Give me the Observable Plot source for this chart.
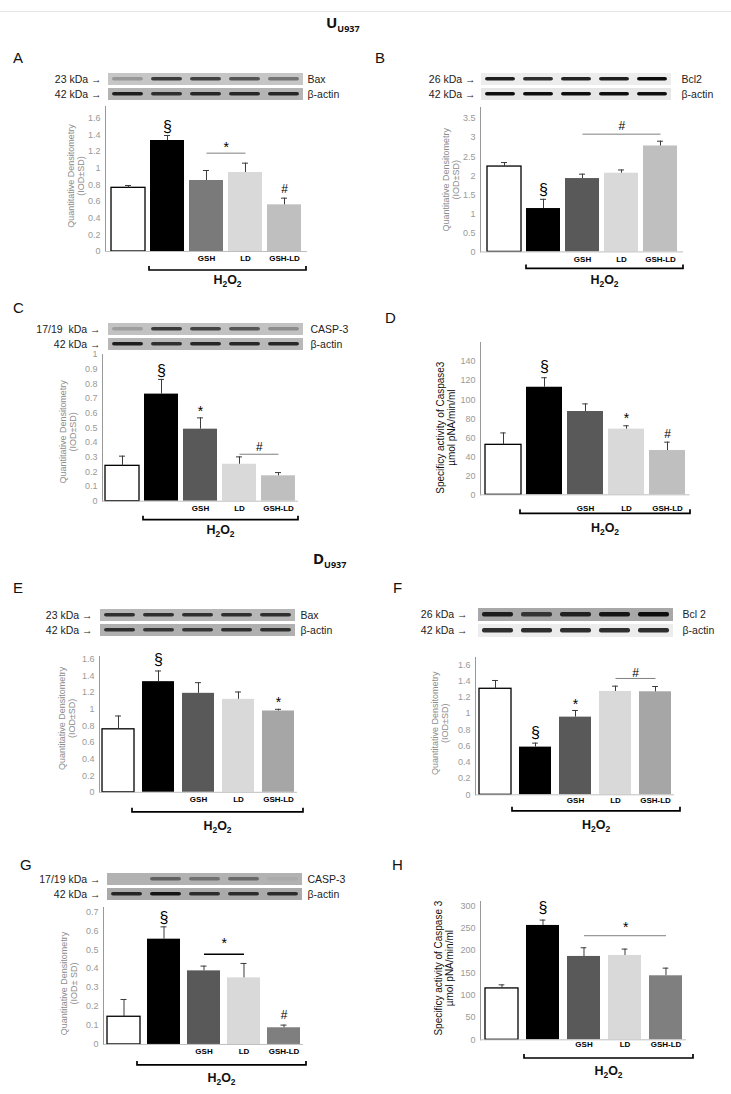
<!DOCTYPE html>
<html><head><meta charset="utf-8">
<script src="https://cdn.jsdelivr.net/npm/d3@7"></script>
<script src="https://cdn.jsdelivr.net/npm/@observablehq/plot@0.6"></script>
<style>
body{margin:0;background:#fff;font-family:"Liberation Sans",Arial,sans-serif;}
#fig{position:relative;width:731px;height:1094px;overflow:hidden;background:#fff;}
.abs{position:absolute;white-space:nowrap;line-height:1;}
.letter{font-size:15px;color:#111;}
.title{font-family:"Open Sans",sans-serif;font-weight:bold;font-size:15px;color:#111;}
.title sub{font-size:9px;vertical-align:-4px;}
.rule{position:absolute;left:0;top:11px;width:731px;height:1px;background:#e6e6e6;}
</style></head>
<body><div id="fig"><div class="rule"></div></div>
<script>
// ---------- data ----------
const categories = ["Control", "H2O2", "GSH", "LD", "GSH-LD"];
const tickLabels = ["", "", "GSH", "LD", "GSH-LD"];
const lanes = ["1", "2", "3", "4", "5"];
const strips = ["target", "actin"];

const valuesA = [0.764, 1.332, 0.852, 0.948, 0.56];
const errorsA = [0.028, 0.06, 0.12, 0.112, 0.08];
const valuesB = [2.24, 1.138, 1.925, 2.065, 2.78];
const errorsB = [0.105, 0.242, 0.115, 0.085, 0.125];
const valuesC = [0.241, 0.73, 0.491, 0.252, 0.173];
const errorsC = [0.066, 0.1, 0.077, 0.05, 0.022];
const valuesD = [52.5, 113, 87.5, 69, 46.5];
const errorsD = [12.5, 10, 8, 3.5, 8.8];
const valuesE = [0.756, 1.328, 1.188, 1.116, 0.976];
const errorsE = [0.16, 0.128, 0.128, 0.088, 0.02];
const valuesF = [1.305, 0.587, 0.956, 1.272, 1.268];
const errorsF = [0.102, 0.049, 0.082, 0.065, 0.065];
const valuesG = [0.146, 0.555, 0.388, 0.351, 0.088];
const errorsG = [0.091, 0.065, 0.025, 0.076, 0.014];
const valuesH = [115, 256, 186.6, 188.8, 143.3];
const errorsH = [8, 12, 19.4, 14.2, 17.1];

const ticksA = [0, 0.2, 0.4, 0.6, 0.8, 1, 1.2, 1.4, 1.6];
const ticksB = [0, 0.5, 1, 1.5, 2, 2.5, 3, 3.5];
const ticksC = [0, 0.1, 0.2, 0.3, 0.4, 0.5, 0.6, 0.7, 0.8, 0.9, 1];
const ticksD = [0, 20, 40, 60, 80, 100, 120, 140];
const ticksE = [0, 0.2, 0.4, 0.6, 0.8, 1, 1.2, 1.4, 1.6];
const ticksF = [0, 0.2, 0.4, 0.6, 0.8, 1, 1.2, 1.4, 1.6];
const ticksG = [0, 0.1, 0.2, 0.3, 0.4, 0.5, 0.6, 0.7];
const ticksH = [0, 50, 100, 150, 200, 250, 300];

const symbolsA = [{cat: "H2O2", y: 1.49, text: "§"}, {cat: "GSH-LD", y: 0.75, text: "#"}];
const sigsA = [{from: "GSH", to: "LD", y: 1.18, ty: 1.25, text: "*"}];
const symbolsB = [{cat: "H2O2", y: 1.62, text: "§"}];
const sigsB = [{from: "GSH", to: "GSH-LD", y: 3.09, ty: 3.31, text: "#"}];
const symbolsC = [{cat: "H2O2", y: 0.886, text: "§"}, {cat: "GSH", y: 0.609, text: "*"}];
const sigsC = [{from: "LD", to: "GSH-LD", y: 0.32, ty: 0.37, text: "#"}];
const symbolsD = [{cat: "H2O2", y: 134, text: "§"}, {cat: "LD", y: 79.8, text: "*"}, {cat: "GSH-LD", y: 64, text: "#"}];
const sigsD = [];
const symbolsE = [{cat: "H2O2", y: 1.588, text: "§"}, {cat: "GSH-LD", y: 1.076, text: "*"}];
const sigsE = [];
const symbolsF = [{cat: "H2O2", y: 0.759, text: "§"}, {cat: "GSH", y: 1.112, text: "*"}];
const sigsF = [{from: "LD", to: "GSH-LD", y: 1.432, ty: 1.497, text: "#"}];
const symbolsG = [{cat: "H2O2", y: 0.668, text: "§"}, {cat: "GSH-LD", y: 0.155, text: "#"}];
const sigsG = [{from: "GSH", to: "LD", y: 0.476, ty: 0.532, text: "*"}];
const symbolsH = [{cat: "H2O2", y: 296, text: "§"}];
const sigsH = [{from: "GSH", to: "GSH-LD", y: 233, ty: 251.5, text: "*"}];

const labelDensity = "Quantitative Densitometry\n(IOD±SD)";
const labelDensityG = "Quantitative Densitometry\n(IOD± SD)";
const labelCaspD = "Specificy activity of Caspase3\nµmol pNA/min/ml";
const labelCaspH = "Specificy activity of Caspase 3\nµmol pNA/min/ml";

// western blot lane band intensities (0 = none, 1 = darkest)
const blotA_target = [0.25, 0.75, 0.72, 0.62, 0.45];
const blotA_actin = [0.9, 0.8, 0.85, 0.85, 0.85];
const blotB_target = [0.92, 0.85, 0.9, 0.92, 1];
const blotB_actin = [1, 1, 1, 1, 1];
const blotC_target = [0.2, 0.75, 0.7, 0.6, 0.3];
const blotC_actin = [0.9, 0.8, 0.85, 0.85, 0.85];
const blotE_target = [0.8, 0.8, 0.8, 0.8, 0.8];
const blotE_actin = [0.8, 0.75, 0.75, 0.8, 0.8];
const blotF_target = [0.9, 0.75, 0.88, 0.95, 1];
const blotF_actin = [0.85, 0.85, 0.85, 0.85, 0.85];
const blotG_target = [0.02, 0.5, 0.4, 0.45, 0.05];
const blotG_actin = [0.85, 0.95, 0.8, 0.8, 0.8];

// ---------- styles / layout ----------
const FONT = "'Liberation Sans', Arial, sans-serif";
const fig = document.getElementById("fig");
const symSize = {"§": 16, "*": 14, "#": 12};

function addDiv(cls, html, left, top) {
  const d = document.createElement("div");
  d.className = "abs " + cls;
  d.innerHTML = html;
  d.style.left = left + "px";
  d.style.top = top + "px";
  fig.appendChild(d);
}

function barPanel(values, errors, colors, ticks, symbols, sigs, ylabel, L) {
  const data = categories.map((c, i) => ({cat: c, label: tickLabels[i], value: values[i], err: errors[i], color: colors[i]}));
  const mL = 60, mR = 24, mT = 26, mB = 46;
  const yt = L.y0 - L.ymax * L.ppu;
  const fw = L.rx - L.ax, fh = L.y0 - yt;
  const n = categories.length;
  const step = fw / (n - L.padIn + 2 * L.padOut);
  const bw = step * (1 - L.padIn);
  const capInset = (bw - 6) / 2;
  const sigMarks = [];
  sigs.forEach(s => {
    sigMarks.push(Plot.link([s], {x1: "from", x2: "to", y1: "y", y2: "y", stroke: L.sigColor, strokeWidth: L.sigWidth}));
    const span = categories.indexOf(s.to) - categories.indexOf(s.from);
    sigMarks.push(Plot.text([s], {x: "from", y: "ty", text: "text", dx: step * span / 2, fill: "#000", fontSize: symSize[s.text]}));
  });
  const plot = Plot.plot({
    width: mL + fw + mR, height: mT + fh + mB,
    marginLeft: mL, marginRight: mR, marginTop: mT, marginBottom: mB,
    style: {fontFamily: FONT, fontSize: "9px", color: "#999", background: "transparent", overflow: "visible"},
    x: {domain: categories, paddingInner: L.padIn, paddingOuter: L.padOut, axis: null},
    y: {domain: [0, L.ymax], ticks: ticks, tickFormat: d => String(d), tickSize: 0, tickPadding: 5, line: true, label: null},
    marks: [
      Plot.barY(data, {x: "cat", y: "value", fill: "color"}),
      Plot.barY(data.filter(d => d.cat === "Control"), {x: "cat", y: "value", fill: "none", stroke: "#000", strokeWidth: 1.3}),
      Plot.ruleY([0], {stroke: "#bfbfbf"}),
      Plot.ruleX(data, {x: "cat", y1: "value", y2: d => d.value + d.err, stroke: "#3a3a3a", strokeWidth: 1}),
      Plot.tickY(data, {x: "cat", y: d => d.value + d.err, stroke: "#3a3a3a", strokeWidth: 1, insetLeft: capInset, insetRight: capInset}),
      ...sigMarks,
      Plot.text(symbols, {x: "cat", y: "y", text: "text", fill: "#000", fontSize: d => symSize[d.text]}),
      Plot.text(data, {x: "cat", text: "label", frameAnchor: "bottom", dy: L.catDy, fill: "#000", fontWeight: "bold", fontSize: 8, ariaLabel: "catlabel"}),
      Plot.text([ylabel], {text: d => d, frameAnchor: "left", textAnchor: "middle", lineAnchor: "middle", rotate: -90, dx: L.ylDx, dy: L.ylDy, fill: L.ylColor, fontSize: L.ylSize, lineHeight: 1.1, ariaLabel: "ylabel"})
    ]
  });
  const svg = d3.select(plot);
  svg.selectAll('g[aria-label="ylabel"] text').style("letter-spacing", L.ylSpacing + "px");
  svg.selectAll('g[aria-label="catlabel"] text').style("letter-spacing", "0.5px");
  const xs = plot.scale("x");
  const left = xs.apply("H2O2") - L.brL;
  const right = xs.range[1] + L.brR;
  const by = mT + fh + L.brDy;
  svg.append("path")
    .attr("d", `M${left},${by - 4}V${by}H${right}V${by - 4}`)
    .attr("fill", "none").attr("stroke", "#000").attr("stroke-width", 1.7);
  const t = svg.append("text")
    .attr("x", (left + right) / 2).attr("y", mT + fh + L.h2Dy)
    .attr("text-anchor", "middle").attr("font-weight", "bold").attr("font-size", 12.5).attr("fill", "#111");
  t.append("tspan").text("H");
  t.append("tspan").attr("font-size", 8.5).attr("dy", 3).text("2");
  t.append("tspan").attr("dy", -3).text("O");
  t.append("tspan").attr("font-size", 8.5).attr("dy", 3).text("2");
  plot.style.position = "absolute";
  plot.style.left = (L.ax - mL) + "px";
  plot.style.top = (yt - mT) + "px";
  fig.appendChild(plot);
}

function blotPanel(target, actin, bgs, leftLabels, rightLabels, B) {
  const cells = [];
  strips.forEach((s, si) => lanes.forEach((l, li) => cells.push({lane: l, strip: s, bg: bgs[si], intensity: (si === 0 ? target : actin)[li]})));
  const mL = 80, mR = 50;
  const w = B.x1 - B.x0, h = B.y1 - B.y0;
  const plot = Plot.plot({
    width: mL + w + mR, height: h,
    marginLeft: mL, marginRight: mR, marginTop: 0, marginBottom: 0,
    style: {fontFamily: FONT, fontSize: "10.5px", background: "transparent", overflow: "visible"},
    x: {domain: lanes, padding: 0, axis: null},
    y: {domain: strips, paddingInner: 0.2, paddingOuter: 0, axis: null},
    marks: [
      Plot.cell(cells, {x: "lane", y: "strip", fill: "bg"}),
      Plot.cell(cells.filter(d => d.intensity > 0.03), {x: "lane", y: "strip", fill: d => d3.interpolateRgb(d.bg, "#0d0d0d")(d.intensity), insetLeft: 4, insetRight: 4, insetTop: 4, insetBottom: 4.5, rx: 2}),
      Plot.text(strips, {y: d => d, frameAnchor: "left", textAnchor: "end", dx: B.ldx, fontSize: 10.5, text: (d, i) => leftLabels[i] + " \u2192", fill: "#222"}),
      Plot.text(strips, {y: d => d, frameAnchor: "right", textAnchor: "start", dx: B.rdx, fontSize: 10.5, text: (d, i) => rightLabels[i], fill: "#222"})
    ]
  });
  plot.style.position = "absolute";
  plot.style.left = (B.x0 - mL) + "px";
  plot.style.top = B.y0 + "px";
  fig.appendChild(plot);
}

const colorsA = ["#ffffff", "#000000", "#7a7a7a", "#d9d9d9", "#bfbfbf"];
const colorsB = ["#ffffff", "#000000", "#595959", "#d9d9d9", "#bfbfbf"];
const colorsE = ["#ffffff", "#000000", "#595959", "#d9d9d9", "#a6a6a6"];
const colorsG = ["#ffffff", "#000000", "#595959", "#d9d9d9", "#7f7f7f"];

const gray = {ylColor: "#8c8c8c", ylSize: 9, ylSpacing: 0.8, sigColor: "#808080", sigWidth: 1};
const dark = {ylColor: "#111", ylSize: 10, ylSpacing: 0, sigColor: "#808080", sigWidth: 1};

// titles & panel letters
addDiv("title", "U<sub>U937</sub>", 326, 15);
addDiv("title", "D<sub>U937</sub>", 313, 551);
[["A", 13, 50], ["B", 375, 50], ["C", 13, 300], ["D", 385, 310], ["E", 13, 580], ["F", 393, 580], ["G", 20, 857], ["H", 392, 857]]
  .forEach(([t, x, y]) => addDiv("letter", t, x, y));

// blots
blotPanel(blotA_target, blotA_actin, ["#c6c6c6", "#b4b4b4"], ["23 kDa", "42 kDa"], ["Bax", "\u03b2-actin"], {x0: 107, x1: 303, y0: 73, y1: 100, ldx: -6, rdx: 4});
blotPanel(blotB_target, blotB_actin, ["#ededed", "#e6e6e6"], ["26 kDa", "42 kDa"], ["Bcl2", "\u03b2-actin"], {x0: 480, x1: 672, y0: 73, y1: 100, ldx: -5, rdx: 9});
blotPanel(blotC_target, blotC_actin, ["#c2c2c2", "#b8b8b8"], ["17/19  kDa", "42 kDa"], ["CASP-3", "\u03b2-actin"], {x0: 108, x1: 303, y0: 322, y1: 350, ldx: -8, rdx: 7});
blotPanel(blotE_target, blotE_actin, ["#b7b7b7", "#b0b0b0"], ["23 kDa", "42 kDa"], ["Bax", "\u03b2-actin"], {x0: 99, x1: 296, y0: 608, y1: 636, ldx: -7, rdx: 4});
blotPanel(blotF_target, blotF_actin, ["#a8a8a8", "#ececec"], ["26 kDa", "42 kDa"], ["Bcl 2", "\u03b2-actin"], {x0: 478, x1: 673, y0: 608, y1: 637, ldx: -11, rdx: 9});
blotPanel(blotG_target, blotG_actin, ["#b2b2b2", "#aaaaaa"], ["17/19 kDa", "42 kDa"], ["CASP-3", "\u03b2-actin"], {x0: 106, x1: 302, y0: 873, y1: 900, ldx: -6, rdx: 5});

// bar charts
barPanel(valuesA, errorsA, colorsA, ticksA, symbolsA, sigsA, labelDensity,
  {...gray, ax: 105, rx: 307, y0: 251, ppu: 83.33, ymax: 1.74, padIn: 0.14, padOut: 0.127, catDy: 10, brDy: 19, h2Dy: 33, brL: 1, brR: -1, ylDx: -30, ylDy: -3});
barPanel(valuesB, errorsB, colorsB, ticksB, symbolsB, sigsB, labelDensity,
  {...gray, ax: 480, rx: 683, y0: 251, ppu: 38.1, ymax: 3.79, padIn: 0.134, padOut: 0.153, catDy: 10, brDy: 17, h2Dy: 33, brL: 0, brR: 0, ylDx: -30, ylDy: 0});
barPanel(valuesC, errorsC, colorsB, ticksC, symbolsC, sigsC, labelDensity,
  {...gray, ax: 102, rx: 298, y0: 501, ppu: 146.7, ymax: 1.0, padIn: 0.14, padOut: 0.05, catDy: 10, brDy: 19, h2Dy: 33, brL: 1, brR: 0, ylDx: -34.5, ylDy: 4});
barPanel(valuesD, errorsD, colorsB, ticksD, symbolsD, sigsD, labelCaspD,
  {...dark, ax: 480, rx: 689.5, y0: 494.3, ppu: 0.952, ymax: 160, padIn: 0.115, padOut: 0.097, catDy: 16, brDy: 19, h2Dy: 38, brL: 6, brR: 0.5, ylDx: -35, ylDy: 9});
barPanel(valuesE, errorsE, colorsE, ticksE, symbolsE, sigsE, labelDensity,
  {...gray, ax: 99, rx: 297, y0: 792.3, ppu: 83.33, ymax: 1.63, padIn: 0.2, padOut: 0.075, catDy: 10, brDy: 20, h2Dy: 38, brL: 10, brR: 6, ylDx: -33, ylDy: -6});
barPanel(valuesF, errorsF, colorsE, ticksF, symbolsF, sigsF, labelDensity,
  {...gray, ax: 475, rx: 674, y0: 794.3, ppu: 81.25, ymax: 1.69, padIn: 0.2, padOut: 0.075, catDy: 8.5, brDy: 16.5, h2Dy: 35, brL: 7, brR: 6, ylDx: -36, ylDy: -3});
barPanel(valuesG, errorsG, colorsG, ticksG, symbolsG, sigsG, labelDensityG,
  {...gray, sigColor: "#000", sigWidth: 1.5, ax: 103, rx: 303, y0: 1044.3, ppu: 189.7, ymax: 0.722, padIn: 0.18, padOut: 0.075, catDy: 10, brDy: 21, h2Dy: 38, brL: 10, brR: 3, ylDx: -35, ylDy: 7.5});
barPanel(valuesH, errorsH, colorsG, ticksH, symbolsH, sigsH, labelCaspH,
  {...dark, ax: 480, rx: 686, y0: 1039, ppu: 0.4467, ymax: 309.6, padIn: 0.2, padOut: 0.072, catDy: 7, brDy: 18.7, h2Dy: 36, brL: 2, brR: 7, ylDx: -37, ylDy: -2.5});
</script></body></html>
